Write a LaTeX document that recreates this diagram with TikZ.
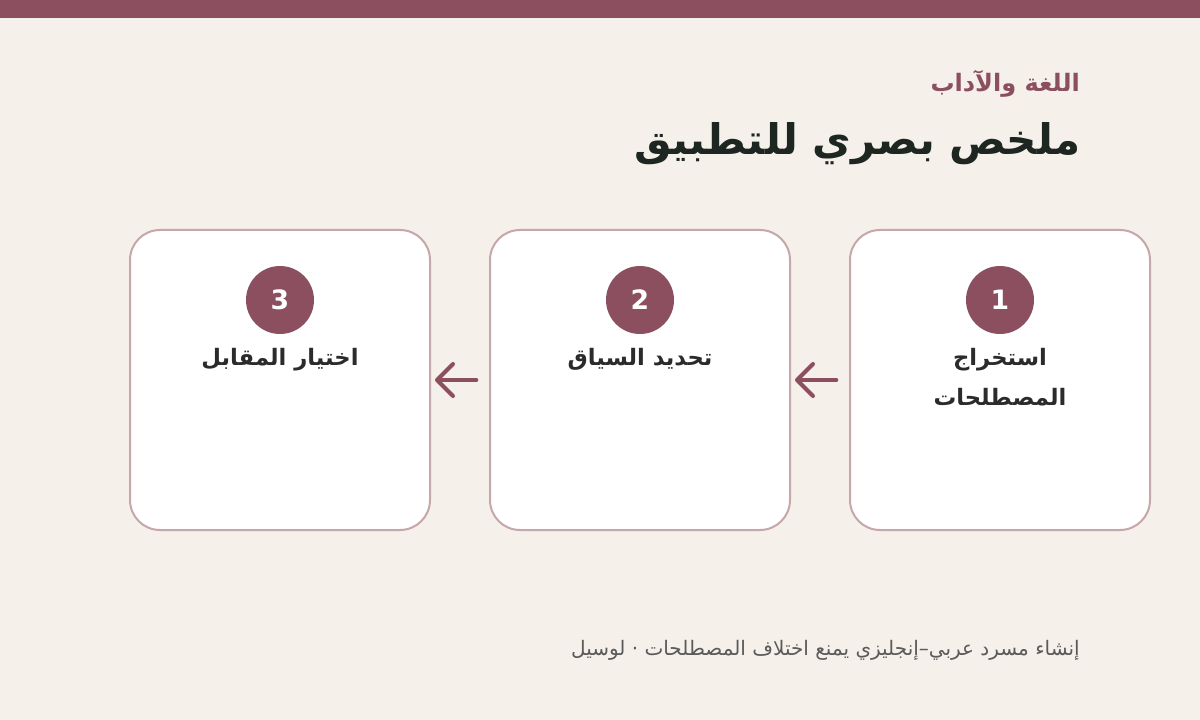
\documentclass[tikz,border=0pt]{standalone}
\usepackage{fontspec}
\newfontfamily\arabicfont[Script=Arabic]{DejaVu Sans}
\TeXXeTstate=1
\usetikzlibrary{arrows.meta}

\definecolor{paper}{HTML}{F5F1EA}
\definecolor{plum}{HTML}{8B4F60}
\definecolor{cardline}{HTML}{C6A7AC}
\definecolor{titleink}{HTML}{1E2621}
\definecolor{labelink}{HTML}{2B2B2B}
\definecolor{footink}{HTML}{5A5A5A}

\begin{document}
\begin{tikzpicture}
      [x=0.75pt,y=-0.75pt,
       card/.style={draw=cardline,line width=1.5pt,fill=white,rounded corners=22.5pt,
                    minimum width=225pt,minimum height=225pt},
       badge/.style={circle,fill=plum,minimum size=51pt,inner sep=0pt,text=white,
                     font=\arabicfont\bfseries\fontsize{20}{20}\selectfont},
       steplabel/.style={anchor=base,inner sep=0pt,text=labelink,align=center,
                         font=\arabicfont\bfseries\fontsize{17}{30}\selectfont},
       flow/.style={draw=plum,line width=3pt,line cap=round,
                    -{Straight Barb[length=12pt,width=24pt,round]}}]
      % page and top band
      \fill[paper] (0,0) rectangle (1200,720);
      \fill[plum] (0,0) rectangle (1200,18);

      % headings
      \node[anchor=base east,inner sep=0pt,text=plum,
            font=\arabicfont\bfseries\fontsize{18}{22}\selectfont] (kicker) at (1080,92)
            {\beginR اللغة والآداب\endR};
      \node[anchor=base east,inner sep=0pt,text=titleink,
            font=\arabicfont\bfseries\fontsize{31.6}{38}\selectfont] (title) at (1081,155)
            {\beginR ملخص بصري للتطبيق\endR};

      % the three steps, read from right to left
      \node[card] (s1) at (1000,380) {};
      \node[card] (s2) at (640,380) {};
      \node[card] (s3) at (280,380) {};

      \foreach \n/\x in {1/1000, 2/640, 3/280}
      \node[badge] (b\n) at (\x,300) {\raisebox{-1pt}{\n}};

      \node[steplabel] (l1) at (1000,405) {\beginR استخراج\endR\\\beginR المصطلحات\endR};
      \node[steplabel] (l2) at (640,365) {\beginR تحديد السياق\endR};
      \node[steplabel] (l3) at (280,365) {\beginR اختيار المقابل\endR};

      \foreach \from/\to in {s1/s2, s2/s3}
      \draw[flow,shorten <=9.5pt,shorten >=3pt] (\from.west) -- (\to.east);

      % footer
      \node[anchor=base east,inner sep=0pt,text=footink,
            font=\arabicfont\fontsize{15}{18}\selectfont] (foot) at (1080,655)
            {\beginR إنشاء مسرد عربي–إنجليزي يمنع اختلاف المصطلحات · لوسيل\endR};
    \end{tikzpicture}
\end{document}
